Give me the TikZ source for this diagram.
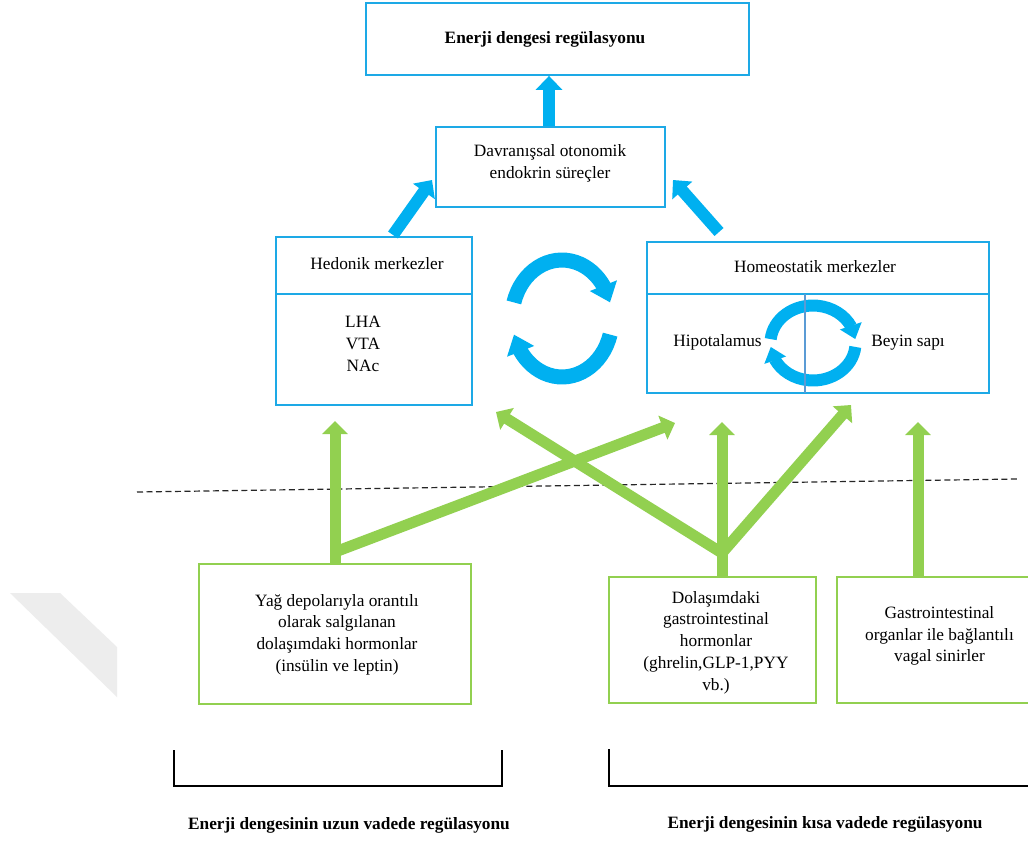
\documentclass[tikz,border=0pt]{standalone}
\usepackage{fontspec}
\setmainfont{Liberation Serif}
\usetikzlibrary{arrows.meta,bending}
\definecolor{cyanA}{HTML}{00B0F0}
\definecolor{cyanB}{HTML}{1DA9E6}
\definecolor{grn}{HTML}{92D050}
\definecolor{divb}{HTML}{5B9BD5}
\definecolor{wm}{HTML}{EDEDED}
\begin{document}
\begin{tikzpicture}[x=1pt,y=-1pt,
  bbox/.style={draw=cyanB,line width=1.8pt,inner sep=0pt,fill=white},
  gbox/.style={draw=grn,line width=1.8pt,inner sep=0pt,fill=white},
  txt/.style={font=\fontsize{17.3}{21.7}\selectfont,align=center,inner sep=0pt},
  btxt/.style={txt,font=\fontsize{17.3}{21.7}\selectfont\bfseries},
  barrow/.style={draw=cyanA,line width=12pt,-{Triangle[width=26pt,length=14pt]}},
  garrow/.style={draw=grn,line width=11pt,-{Triangle[width=25pt,length=13pt]}},
  bigcyc/.style={draw=cyanA,line width=15pt,-{Triangle[width=28pt,length=18pt]}},
  smallcyc/.style={draw=cyanA,line width=12pt,-{Triangle[width=22pt,length=14pt]}},
  dashline/.style={draw=black!85,line width=1.2pt,dash pattern=on 6pt off 3.5pt},
  brk/.style={draw=black,line width=2.2pt}]
\useasboundingbox[fill=white] (0,0) rectangle (1028,841);

% watermark
\fill[wm] (10,593) -- (60,593) -- (117,647) -- (117,697) -- cycle;

% blue boxes
\node[bbox,minimum width=383pt,minimum height=72pt] (top) at (557.5,39) {};
\node[btxt] (topt) at (545,39) {Enerji dengesi regülasyonu};
\node[bbox,minimum width=229pt,minimum height=80pt] (dav) at (550.5,167) {};
\node[txt] (davt) at (550,163) {Davranışsal otonomik\\endokrin süreçler};
\node[bbox,minimum width=196pt,minimum height=168pt] (hed) at (374,321) {};
\draw[draw=cyanB,line width=1.8pt] (hed.west |- 0,294) coordinate (hdl) -- (hed.east |- 0,294) coordinate (hdr);
\node[txt] (hedt) at (377,264) {Hedonik merkezler};
\node[txt] (hedl) at (363,344) {LHA\\VTA\\NAc};
\node[bbox,minimum width=342pt,minimum height=151pt] (hom) at (818,317.5) {};
\draw[draw=cyanB,line width=1.8pt] (hom.west |- 0,294) coordinate (mdl) -- (hom.east |- 0,294) coordinate (mdr);
\node[txt] (homt) at (815,267) {Homeostatik merkezler};
\node[txt] (hipo) at (717.5,342) {Hipotalamus};
\node[txt] (beyin) at (908,343) {Beyin sapı};

% small cycle
\draw[smallcyc] (770.7,339.1) arc[start angle=-174,end angle=-6,x radius=42.5,y radius=37.5];
\draw[smallcyc] (855.3,346.9) arc[start angle=6,end angle=174,x radius=42.5,y radius=37.5];
\draw[draw=divb,line width=1.2pt] (805,294) coordinate (vd1) -- (805,393) coordinate (vd2);

% big cycle
\draw[bigcyc] (513.9,302.4) arc[start angle=-164,end angle=-16,x radius=50,y radius=58.5];
\draw[bigcyc] (610.1,334.6) arc[start angle=16,end angle=164,x radius=50,y radius=58.5];

% blue arrows
\draw[barrow] (dav.north -| 549,0) -- (top.south -| 549,0);
\coordinate (b2s) at (393,235);
\coordinate (b2e) at (432,180);
\coordinate (b3s) at (719,232);
\coordinate (b3e) at (673,180);
\draw[barrow] (b2s) -- (b2e);
\draw[barrow] (b3s) -- (b3e);

% green boxes
\node[gbox,minimum width=272pt,minimum height=140pt] (yag) at (335,634) {};
\node[txt] (yagt) at (337,634.5) {Yağ depolarıyla orantılı\\olarak salgılanan\\dolaşımdaki hormonlar\\(insülin ve leptin)};
\node[gbox,minimum width=207pt,minimum height=126pt] (dol) at (712.5,640) {};
\node[txt] (dolt) at (716,642.5) {Dolaşımdaki\\gastrointestinal\\hormonlar\\(ghrelin,GLP-1,PYY\\vb.)};
\node[gbox,minimum width=195pt,minimum height=126pt] (gas) at (934.5,640) {};
\node[txt] (gast) at (939.5,636) {Gastrointestinal\\organlar ile bağlantılı\\vagal sinirler};

% dashed line
\draw[dashline] (137,492) -- (1017,479);

% green arrows
\coordinate (t1) at (335,421);
\coordinate (j1) at (335,552);
\coordinate (t2) at (675,423);
\coordinate (j2) at (722,553);
\coordinate (t3) at (496,412);
\coordinate (t4) at (722,422);
\coordinate (t5) at (851,405);
\coordinate (t6) at (918,422);
\draw[garrow] (yag.north -| t1) -- (t1);
\draw[garrow] (j1) -- (t2);
\draw[garrow] (j2) -- (t3);
\draw[garrow] (dol.north -| t4) -- (t4);
\draw[garrow] (j2) -- (t5);
\draw[garrow] (gas.north -| t6) -- (t6);

% brackets
\draw[brk] (174,750) -- (174,786) -- (502,786) -- (502,750);
\draw[brk] (609,749) -- (609,786) -- (1035,786);

% bottom labels
\node[btxt] (uzun) at (349,825) {Enerji dengesinin uzun vadede regülasyonu};
\node[btxt] (kisa) at (825,824) {Enerji dengesinin kısa vadede regülasyonu};
\end{tikzpicture}
\end{document}
